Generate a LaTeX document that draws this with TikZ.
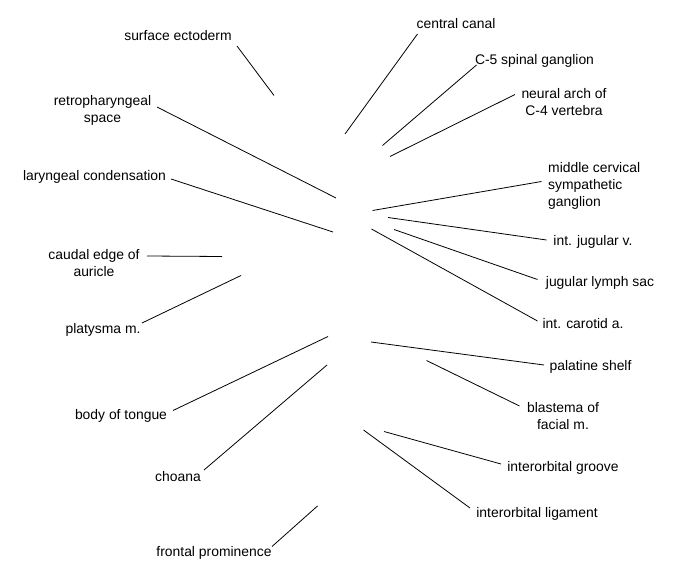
\documentclass[tikz,border=0pt]{standalone}
\usepackage{fontspec}
\setmainfont{Liberation Sans}
\begin{document}
\begin{tikzpicture}[x=1pt,y=-1pt,
  lbl/.style={inner sep=0pt,font=\fontsize{13.9}{17}\selectfont,text height=9.7pt,text depth=2.8pt},
  lblc/.style={lbl,align=center},
  lbll/.style={lbl,align=left},
  leader/.style={draw=black,line width=0.8pt}]
\useasboundingbox[fill=white] (0,0) rectangle (675,580);
% labels (multi-line nodes are placed by their last line)
\node[lbl]  (se)  at (178,37)   {surface ectoderm};
\node[lblc] (rs)  at (102.5,119) {retropharyngeal\\space};
\node[lbl]  (lc)  at (94.5,177) {laryngeal condensation};
\node[lblc] (ce)  at (94,273) {caudal edge of\\auricle};
\node[lbl]  (pm)  at (103,330)  {platysma m.};
\node[lbl]  (bt)  at (121,416)  {body of tongue};
\node[lbl]  (ch)  at (178,478)  {choana};
\node[lbl]  (fp)  at (214,553)  {frontal prominence};
\node[lbl]  (cc)  at (456,25)   {central canal};
\node[lbl]  (c5)  at (534.5,61) {C-5 spinal ganglion};
\node[lblc] (na)  at (564,112) {neural arch of\\C-4 vertebra};
\node[lbll,anchor=west] (mc) at (548,203.5) {middle cervical\\sympathetic\\ganglion};
\node[lbl]  (ij)  at (593,242.5) {int. jugular v.};
\node[lbl]  (jl)  at (600,283)  {jugular lymph sac};
\node[lbl]  (ic)  at (583,325)  {int. carotid a.};
\node[lbl]  (ps)  at (590.5,367) {palatine shelf};
\node[lblc] (bf)  at (563,426) {blastema of\\facial m.};
\node[lbl]  (ig)  at (563,468)  {interorbital groove};
\node[lbl]  (il)  at (537,514)  {interorbital ligament};
% leader ends
\coordinate (se1) at (237,46);   \coordinate (se2) at (274,95.5);
\coordinate (rs1) at (157,107);  \coordinate (rs2) at (336,198);
\coordinate (lc1) at (171,179);  \coordinate (lc2) at (333,232);
\coordinate (ce1) at (147,256);  \coordinate (ce2) at (222,256.5);
\coordinate (pm1) at (142,323);  \coordinate (pm2) at (241,275.5);
\coordinate (bt1) at (173,410.5);\coordinate (bt2) at (328,336.5);
\coordinate (ch1) at (204,470);  \coordinate (ch2) at (327,365);
\coordinate (fp1) at (272,546.5);\coordinate (fp2) at (317.5,506);
\coordinate (cc1) at (417.5,34); \coordinate (cc2) at (345,134);
\coordinate (c51) at (476.5,65); \coordinate (c52) at (382.5,145.5);
\coordinate (na1) at (515,94.5); \coordinate (na2) at (390,156.5);
\coordinate (mc1) at (541.5,181.5); \coordinate (mc2) at (372.5,210.5);
\coordinate (ij1) at (546.5,240); \coordinate (ij2) at (388,217.5);
\coordinate (jl1) at (537.5,279.5); \coordinate (jl2) at (394,229.5);
\coordinate (ic1) at (537.5,321); \coordinate (ic2) at (371.5,229);
\coordinate (ps1) at (544,365);  \coordinate (ps2) at (371,342);
\coordinate (bf1) at (519.5,406);\coordinate (bf2) at (426.5,360.5);
\coordinate (ig1) at (501,464);  \coordinate (ig2) at (384,431.5);
\coordinate (il1) at (470,508);  \coordinate (il2) at (363.5,430);
\foreach \n in {se,rs,lc,ce,pm,bt,ch,fp,cc,c5,na,mc,ij,jl,ic,ps,bf,ig,il}
  \draw[leader] (\n1) -- (\n2);
\end{tikzpicture}
\end{document}
